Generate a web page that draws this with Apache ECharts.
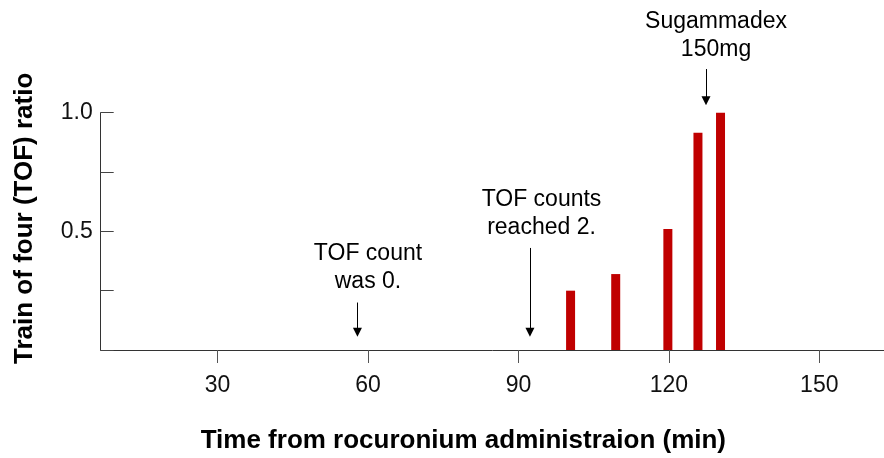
<!DOCTYPE html>
<html>
<head>
<meta charset="utf-8">
<script src="https://cdn.jsdelivr.net/npm/echarts@6/dist/echarts.min.js"></script>
<style>
  html, body { margin: 0; padding: 0; background: #fff; }
  #chart { width: 884px; height: 458px; }
</style>
</head>
<body>
<div id="chart"></div>
<script>
// bar data (time in min, TOF ratio)
var times = [100.4, 109.4, 119.8, 125.8, 130.3];
var tofRatio = [0.25, 0.32, 0.51, 0.915, 1.0];

var xTicks = [30, 60, 90, 120, 150];

// annotations: text position and arrow start/end
var noteText = ['TOF count\nwas 0.', 'TOF counts\nreached 2.', 'Sugammadex\n150mg'];
var noteX = [60, 94.6, 129.4];
var noteY = [0.345, 0.575, 1.325];
var arrowX = [57.9, 92.3, 127.4];
var arrowFrom = [0.2, 0.43, 1.184];
var arrowTo = [0.075, 0.075, 1.05];

var font = 'Liberation Sans, Arial, sans-serif';

var chart = echarts.init(document.getElementById('chart'));

var barData = times.map(function (t, i) { return [t, tofRatio[i]]; });
var noteData = noteText.map(function (s, i) { return { name: s, value: [noteX[i], noteY[i]] }; });
var arrowData = arrowX.map(function (x, i) {
  return { coords: [[x, arrowFrom[i]], [x, arrowTo[i]]] };
});

chart.setOption({
  animation: false,
  backgroundColor: '#fff',
  grid: [
    { left: 100.7, right: 0, top: 112.7, bottom: 108, containLabel: false, outerBoundsMode: 'none' },
    { left: 100.7, right: 0, top: 0, bottom: 108, containLabel: false, outerBoundsMode: 'none' }
  ],
  xAxis: [
    {
      type: 'value',
      gridIndex: 0,
      min: 6.7,
      max: 162.9,
      splitLine: { show: false },
      axisLine: { lineStyle: { color: '#333', width: 1 } },
      axisTick: { customValues: xTicks, length: 13, lineStyle: { color: '#555' } },
      axisLabel: {
        customValues: xTicks,
        fontSize: 23, color: '#111', fontFamily: font, margin: 24
      },
      name: 'Time from rocuronium administraion (min)',
      nameLocation: 'middle',
      nameGap: 78,
      nameTextStyle: {
        fontSize: 26, fontWeight: 'bold', color: '#000', fontFamily: font,
        padding: [0, 58, 0, 0]
      }
    },
    { type: 'value', gridIndex: 1, min: 6.7, max: 162.9, show: false }
  ],
  yAxis: [
    {
      type: 'value',
      gridIndex: 0,
      min: 0,
      max: 1,
      interval: 0.25,
      splitLine: { show: false },
      axisLine: { show: true, lineStyle: { color: '#333', width: 1 } },
      axisTick: { show: true, inside: true, length: 13, lineStyle: { color: '#444' } },
      axisLabel: {
        fontSize: 23, color: '#111', fontFamily: font, margin: 8,
        padding: [10, 0, 0, 0],
        formatter: function (v) {
          return (v === 0.5 || v === 1) ? v.toFixed(1) : '';
        }
      },
      name: 'Train of four (TOF) ratio',
      nameLocation: 'middle',
      nameGap: 63,
      nameTextStyle: {
        fontSize: 26, fontWeight: 'bold', color: '#000', fontFamily: font,
        padding: [0, 0, 0, 26]
      }
    },
    { type: 'value', gridIndex: 1, min: 0, max: 1.4749, show: false }
  ],
  series: [
    {
      type: 'bar',
      xAxisIndex: 0,
      yAxisIndex: 0,
      barWidth: 9,
      itemStyle: { color: '#C00000' },
      data: barData
    },
    {
      type: 'lines',
      coordinateSystem: 'cartesian2d',
      xAxisIndex: 1,
      yAxisIndex: 1,
      symbol: ['none', 'triangle'],
      symbolSize: 9,
      lineStyle: { color: '#000', width: 1, opacity: 1 },
      silent: true,
      data: arrowData
    },
    {
      type: 'scatter',
      xAxisIndex: 1,
      yAxisIndex: 1,
      symbolSize: 0,
      silent: true,
      itemStyle: { opacity: 1 },
      label: {
        show: true,
        position: 'inside',
        formatter: function (p) { return p.name; },
        fontSize: 23,
        lineHeight: 28,
        color: '#000',
        textBorderWidth: 0,
        fontFamily: font,
        align: 'center'
      },
      data: noteData
    }
  ]
});
</script>
</body>
</html>
